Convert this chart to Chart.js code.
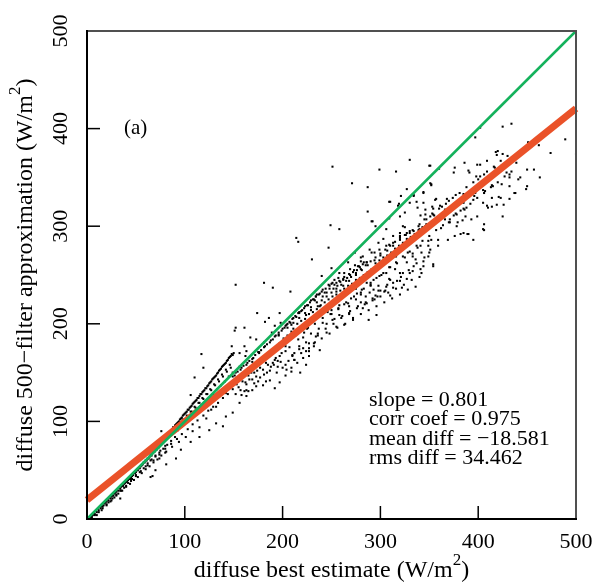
<!DOCTYPE html>
<html>
<head>
<meta charset="utf-8">
<script src="https://cdn.jsdelivr.net/npm/chart.js@4.4.1/dist/chart.umd.min.js"></script>
<style>
  html, body { margin: 0; padding: 0; background: #fff; }
  #wrap { width: 593px; height: 583px; }
</style>
</head>
<body>
<div id="wrap"><canvas id="chart" width="593" height="583"></canvas></div>
<script>
// axis setup
const axisMin = 0;
const axisMax = 500;
const tickValues = [100, 200, 300, 400];
const tickLabels = [0, 100, 200, 300, 400, 500];

// reference lines
const oneToOneX = [0, 500];
const oneToOneY = [0, 500];
const fitX = [0, 500];
const fitY = [19.5, 420.5];

// stats text
const statLines = ['slope = 0.801', 'corr coef = 0.975', 'mean diff = \u221218.581', 'rms diff = 34.462'];
const panelLabel = '(a)';

// scatter values [best estimate, 500-filter approx]
const ridgeLow = [[3,1],[5,2],[6,4],[8,5],[10,7],[12,9],[14,11],[15,13],[17,14],[18,16],[20,18],[22,19],[24,21],[25,23],[27,24],[28,26],[30,28],[32,29],[34,31],[35,33],[37,34],[38,36],[40,38],[42,40],[44,41],[45,43],[47,45],[48,47],[50,48],[52,50],[54,52],[55,54],[57,56],[58,58],[60,60],[62,62],[64,64],[65,66],[67,68],[68,70],[70,72],[72,74],[74,76],[75,78],[77,80],[78,82],[80,84],[82,86],[84,88],[85,90],[87,92],[88,94],[90,96],[92,98],[94,100],[95,102],[97,104],[98,106],[100,108],[102,110],[104,112],[105,114],[107,116],[108,118],[110,120],[112,122],[114,124],[115,126],[117,128],[118,130],[120,132],[122,134],[124,137],[125,139],[127,141],[128,143],[130,145],[132,147],[134,150],[135,152],[137,154],[138,156],[140,158],[142,160],[144,163],[145,165],[147,167],[148,169],[150,170],
  [10,4],[15,9],[20,14],[25,19],[30,24],[35,29],[40,34],[45,39],[50,44],[55,49],[60,54],[65,60],[70,65],[75,70],[80,75],
  [8,4],[12,7],[16,11],[20,15],[24,18],[28,22],[32,26],[36,29],[40,33],[44,36],[48,40],[52,43],[56,47],[60,51],[64,54],[68,58],[72,61],[76,65],[80,68],
  [86,89],[90,93],[94,97],[98,102],[102,106],[106,110],[110,115],[114,119],[118,124],[122,128],[126,133],[130,138],[134,143],[138,148],[142,153],[146,158],
  [4,3],[7,6],[9,8],[11,10],[13,12],[16,13],[19,17],[21,20],[23,22],[26,24],[29,27],[31,30],[33,32],[36,34],[39,37],[41,39],[43,42],[46,44],[49,47],[51,50],[53,52],[56,55],[59,58],[61,60],[63,62],[66,65],[69,69],[71,71],[73,73],[76,77],[79,81],[81,84],[83,87],[86,91],[89,94],[91,97],[93,99],[96,103],[99,107],[101,109],[103,112],[106,115],[109,119],[111,121],[113,124],[116,128],[119,131],[121,134],[123,136],[126,140],[129,144],[131,146],[133,149],[136,153],[139,157],[141,159],[143,162],[146,166],[149,168],
  [22,17],[26,21],[30,25],[34,29],[38,32],[42,37],[46,41],[50,45],[54,48],[58,52],[62,57],[66,61],[70,64],[74,68],[78,72],[82,76],[86,80],[90,84],
  [91,92],[95,97],[99,101],[103,105],[107,110],[111,114],[115,119],[119,123],[123,128],[127,132],[131,137],[135,141],[139,146],[143,151],[147,155],[93,91],[97,95],[101,99],[105,103],[109,107],[113,111],[117,116],[121,120],[125,124],[129,128],[133,133],[137,137],[141,141],[145,146],[149,150]];
const branchMid = [[62,55],[68,60],[74,66],[80,72],[86,77],[92,82],[97,87],[103,92],[108,97],[113,101],[119,106],[124,111],[129,115],[134,119],[139,124],[144,128],[149,133]];
const branchLow = [[65,43],[67,44],[70,50],[74,62],[81,56],[81,69],[87,74],[91,62],[94,79],[96,71],[101,84],[106,79],[108,90],[115,84],[115,94],[122,103],[125,91],[127,112],[132,98],[132,115],[139,95],[142,105],[142,129],[145,136],[149,109],[149,146],[156,119],[156,156],[159,149],[161,131],[163,126],[163,132],[163,172],[166,143],[169,132],[169,161],[173,136],[173,146],[180,153],[180,166],[183,141],[188,156],[192,134],[193,165],[198,161],[204,153],[210,168],[212,163],[34,21],[76,90],
  [152,128],[155,135],[158,127],[162,140],[165,131],[168,150],[171,139],[174,152],[177,145],[180,137],[184,150],[187,142],[190,160],[194,150],[197,140],[200,155],[203,147],[206,162],[209,155],[212,170],[215,160],[218,150],[221,165],[224,158],[227,172]];
const cloudMid = [[148,177],[167,186],[173,184],[181,181],[189,191],[196,188],[192,198],[197,211],[198,201],[161,177],[156,170],[162,167],[176,170],[181,165],[185,158],[192,163],[197,167],[203,158],[210,167],[217,177],[224,181],[227,175],[233,181],[236,188],[222,191],[214,193],[226,196],[207,184],[203,177],[219,170],[227,167],[195,156],[203,198],[209,199],[234,228],[236,218],[233,224],[229,214],[224,209],[217,211],
  [152,150],[158,155],[164,160],[170,165],[176,171],[182,177],[188,183],[192,187],[196,191],[200,195],[204,199],[207,202],[210,205],[213,208],[216,211],[219,213],[222,216],[225,219],[228,222],[231,225],[234,228],[237,230],[240,233],[205,196],[211,201],[217,206],[223,211],[229,217],[235,222],[241,228],
  [151,147],[154,151],[157,153],[160,157],[163,158],[166,162],[169,164],[172,168],[175,171],[178,173],[181,176],[184,179],[187,181],[190,184],[193,188],[196,189],[199,193],[202,196],[205,200],[208,201],[211,206],[214,207],[217,212],[220,214],[223,218],[226,219],[229,224],[232,225],[235,230],[238,231],[241,235],[244,236],[247,240],[250,241],[253,245],
  [212,163],[209,151],[217,174],[221,175],[224,172],[227,180],[232,177],[238,173],[234,187],[245,191],[241,201],[251,204],[258,209],[255,197],[263,199],[268,211],[258,219],[267,221],[275,225],[280,230],[286,221],[282,216],[294,225],[296,209],[288,204],[272,204],[250,214],[241,214],[234,206],[228,201],[221,196],[216,184],[304,233],
  [240,224],[245,228],[250,232],[255,236],[260,240],[265,244],[270,248],[275,252],[280,256],[285,260],[290,264],[295,268],[300,272],[305,276],[310,280],[315,284],[320,288],[325,291],[330,295],[243,232],[248,236],[253,240],[258,244],[263,248],[268,251],[273,255],[278,259],[283,263],
  [252,236],[256,239],[259,243],[262,245],[266,247],[269,250],[272,253],[276,255],[279,258],[282,261],[286,263],[251,242],[257,247],[263,252],[269,256],[274,260],[280,264],
  [238,218],[255,225],[268,218],[285,228],[306,238],[262,230],[275,236],[290,240],[298,234],[310,245],[246,212],[280,222],[292,226],
  [232,180],[236,190],[240,185],[244,195],[248,190],[252,200],[256,196],[260,206],[264,200],[268,210],[272,206],[276,216],[280,210],[284,220],[288,214],[292,224],[296,218],[300,228],[304,222],[308,232],[312,226],[316,236],[320,230],[324,240],[328,235],[332,245],[336,238],[340,248],
  [150,140],[153,138],[155,145],[157,132],[159,141],[161,150],[163,138],[165,147],[167,155],[169,143],[171,150],[173,158],[175,141],[177,155],[179,162],[181,148],[183,160],[185,167],[187,152],[189,171],[191,158],[193,176],[195,162],[197,180],[199,170],[201,185],[203,172],[205,188],[207,176],[209,192],
  [211,195],[213,188],[215,200],[217,192],[219,203],[221,186],[223,205],[225,195],[227,210],[229,190],[231,212],[233,200],[235,215],[237,195],[239,219],[241,206],[243,222],[245,200],[247,225],[249,210],[251,228],[253,205],[255,230],[257,216],[259,234],[261,208],[263,236],[265,222],[267,239],[269,213],[271,241],[273,228],[275,245],[277,218],[279,247],[281,235],[283,250],[285,222],[287,253],[289,232],[291,256],[293,245],[295,262],[297,228],[299,265],[301,250],[303,268],[305,234],[307,270],[309,258],[311,273],[313,242],[315,277],[317,262],[319,280],[321,248],[323,283],[325,268],[327,287],[329,255],[331,289],[333,272],[335,292],[337,262],[339,296],[341,280],[343,299],[345,268],[347,302],[349,285]];
const cloudHigh = [[287,315],[292,305],[309,325],[319,323],[295,300],[309,308],[325,314],[334,332],[344,335],[351,344],[360,359],[386,365],[375,355],[399,363],[402,363],[391,355],[400,348],[406,353],[409,367],[418,376],[420,377],[419,373],[425,374],[439,365],[450,358],[457,358],[463,350],[474,375],[489,389],[500,374],[462,383],[451,386],[402,401],[397,391],[425,402],[434,405],[429,355],[432,350],[443,350],[450,341],[449,338],[437,334],[424,343],[423,329],[432,328],[419,322],[425,310],[407,336],[409,321],[415,341],[405,324],[397,334],[395,327],[385,324],[386,317],[377,321],[375,311],[379,304],[370,304],[366,317],[368,328],[357,328],[361,321],[354,318],[355,311],[346,312],[344,324],[337,325],[346,300],[340,297],[330,293],[325,299],[320,293],[313,290],[306,297],[303,287],[309,281],[298,283],[289,276],[294,273],[280,268],[286,263],[277,259],[274,273],[267,263],[258,252],[262,246],[255,242],[248,239],[245,232],
  [335,287],[338,278],[349,280],[350,273],[354,259],[344,259],[342,252],[333,269],[327,263],[323,252],[315,256],[309,246],[320,244],[333,254],[328,273],[316,269],[306,266],[306,252],[299,249],[298,239],[293,235],[286,242],[280,232],[275,239],[289,252],[296,259],[393,307],[405,297],[385,293],[389,292],
  [376,360],[390,357],[417,360],[424,362],[432,353],[441,348],[438,334],[426,322],[414,320],[414,329],[410,319],[421,330],[432,341],[405,337],[409,347],[398,351],[414,342],[396,331],[385,333],[377,332],[370,326],[356,327],[363,320],[353,320],[346,317],[341,311],[354,312],[368,313],[377,313],[382,316],[388,319],[387,310],[399,310],[384,306],[395,286],[390,292],[406,302],[406,296],[378,300],[371,304],[366,307],[362,298],[369,286],[376,290],[382,292],[359,286],[352,286],[359,280],[351,276],[354,261],[349,269],[342,273],[344,264],[341,256],[334,259],[330,252],[336,266],[320,252],[327,246],[317,244],[322,237],[313,237],[307,240],[300,234],[310,229],[295,229],[290,239],
  [318,321],[310,325],[321,331],[334,331],[291,305],[282,269],[291,273],[299,276],[306,280],[313,283],[320,290],[327,293],[334,295],[339,300],[345,307],[351,310],[323,300],[330,324],[320,310],[338,319],[344,334],
  [255,233],[262,239],[268,244],[275,250],[281,255],[287,260],[294,265],[300,270],[307,275],[313,280],[320,286],[326,291],[333,296],[340,302],[347,307],[353,313],[360,318],[367,323],[374,329],[381,334],[388,340],[395,345],[402,351],[409,356],[416,361],[423,367],[430,372],
  [250,210],[257,215],[263,220],[270,226],[276,231],[283,236],[290,242],[296,247],[303,252],[310,258],[316,263],[323,269],[330,274],[337,280],[343,285],[350,290],[357,296],[364,301],[371,307],[378,312],[385,318],[392,323],[399,329],[406,334],[413,340],[420,345],[427,351],[434,356]];
const strays = [[117,169],[119,155],[110,145],[106,127],[152,240],[181,242],[190,237],[208,233],[214,288],[216,284],[230,266],[174,211],[151,193],[152,196],[161,196],[186,206],[182,202],
  [251,361],[299,358],[316,356],[330,368],[271,344],[287,340],[249,301],[258,297],[247,278],[240,249],[250,257],[352,342],[327,338],[350,362],[351,362],[352,343]];

const toPoints = (list) => list.map(p => ({ x: p[0], y: p[1] }));
const scatterData = [].concat(toPoints(ridgeLow), toPoints(branchMid), toPoints(branchLow),
  toPoints(cloudMid), toPoints(cloudHigh), toPoints(strays));

const serif = '"Liberation Serif", "Times New Roman", serif';

function drawSup(ctx, parts, cx, cy, rotate) {
  // parts: main text, superscript, tail
  ctx.save();
  ctx.translate(cx, cy);
  if (rotate) ctx.rotate(-Math.PI / 2);
  ctx.font = '24px ' + serif;
  const w1 = ctx.measureText(parts[0]).width;
  const w3 = ctx.measureText(parts[2]).width;
  ctx.font = '17px ' + serif;
  const w2 = ctx.measureText(parts[1]).width;
  let x0 = -(w1 + w2 + w3) / 2;
  ctx.textAlign = 'left';
  ctx.textBaseline = 'alphabetic';
  ctx.font = '24px ' + serif;
  ctx.fillText(parts[0], x0, 0);
  ctx.font = '17px ' + serif;
  ctx.fillText(parts[1], x0 + w1, -12);
  ctx.font = '24px ' + serif;
  ctx.fillText(parts[2], x0 + w1 + w2, 0);
  ctx.restore();
}

const framePlugin = {
  id: 'frame',
  afterDraw(chart) {
    const { ctx, chartArea: a, scales: { x, y } } = chart;
    ctx.save();
    ctx.lineCap = 'square';
    ctx.lineWidth = 2;
    ctx.strokeStyle = '#505050';
    ctx.beginPath();
    ctx.moveTo(a.left, a.top);
    ctx.lineTo(a.right, a.top);
    ctx.lineTo(a.right, a.bottom);
    ctx.stroke();
    ctx.strokeStyle = '#000';
    ctx.beginPath();
    ctx.moveTo(a.left, a.top);
    ctx.lineTo(a.left, a.bottom);
    ctx.lineTo(a.right, a.bottom);
    ctx.stroke();

    // inward ticks
    ctx.lineWidth = 1.5;
    ctx.lineCap = 'butt';
    tickValues.forEach(v => {
      const px = x.getPixelForValue(v);
      ctx.beginPath(); ctx.moveTo(px, a.bottom); ctx.lineTo(px, a.bottom - 13); ctx.stroke();
      const py = y.getPixelForValue(v);
      ctx.beginPath(); ctx.moveTo(a.left, py); ctx.lineTo(a.left + 13, py); ctx.stroke();
    });

    // tick labels
    ctx.fillStyle = '#000';
    ctx.font = '22px ' + serif;
    ctx.textAlign = 'center';
    ctx.textBaseline = 'alphabetic';
    tickLabels.forEach(v => {
      ctx.fillText(String(v), x.getPixelForValue(v), 548);
      ctx.save();
      ctx.translate(67, y.getPixelForValue(v));
      ctx.rotate(-Math.PI / 2);
      ctx.fillText(String(v), 0, 0);
      ctx.restore();
    });

    // axis titles
    drawSup(ctx, ['diffuse best estimate (W/m', '2', ')'], (a.left + a.right) / 2, 577, false);
    drawSup(ctx, ['diffuse 500\u2212filter approximation (W/m', '2', ')'], 32, (a.top + a.bottom) / 2, true);

    // panel label and stats
    ctx.font = '21px ' + serif;
    ctx.textAlign = 'left';
    ctx.fillText(panelLabel, 124, 134);
    ctx.font = '22px ' + serif;
    statLines.forEach((s, i) => ctx.fillText(s, 369, 406 + i * 19.3));
    ctx.restore();
  }
};

new Chart(document.getElementById('chart'), {
  type: 'scatter',
  data: {
    datasets: [
      {
        data: oneToOneX.map((v, i) => ({ x: v, y: oneToOneY[i] })),
        showLine: true,
        borderColor: '#14b25c',
        borderWidth: 2.5,
        pointRadius: 0,
        clip: false
      },
      {
        data: fitX.map((v, i) => ({ x: v, y: fitY[i] })),
        showLine: true,
        borderColor: '#ea5229',
        borderWidth: 7,
        pointRadius: 0,
        clip: false
      },
      {
        data: scatterData,
        pointStyle: 'rect',
        pointRadius: 1.45,
        borderWidth: 0,
        backgroundColor: '#000'
      }
    ]
  },
  options: {
    responsive: false,
    animation: false,
    layout: { padding: { left: 87, right: 17, top: 31, bottom: 64 } },
    plugins: { legend: { display: false }, tooltip: { enabled: false } },
    scales: {
      x: { type: 'linear', min: axisMin, max: axisMax, display: false },
      y: { type: 'linear', min: axisMin, max: axisMax, display: false }
    }
  },
  plugins: [framePlugin]
});
</script>
</body>
</html>
